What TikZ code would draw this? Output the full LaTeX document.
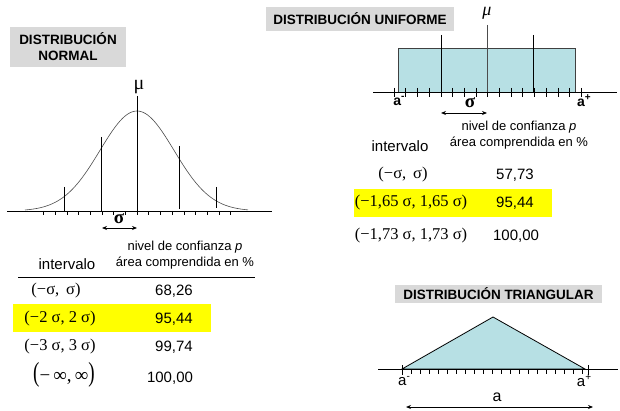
\documentclass[tikz,border=0pt]{standalone}
\usepackage{fontspec}
\setmainfont{Liberation Sans}
\newfontfamily\timesfont{Liberation Serif}
\usetikzlibrary{arrows.meta, positioning}
\definecolor{titlegray}{RGB}{217,217,217}
\definecolor{areablue}{RGB}{183,224,228}
\definecolor{hiyellow}{RGB}{255,255,0}
\newcommand{\supsign}[1]{\raisebox{0.42em}{\fontsize{10}{10}\selectfont #1}}

\begin{document}
\begin{tikzpicture}[x=1pt, y=-1pt,
        title/.style={fill=titlegray, font=\fontsize{13.5}{16}\selectfont\bfseries, align=center, inner sep=0pt},
        head/.style={font=\fontsize{13}{16}\selectfont, align=center, inner sep=0pt},
        colname/.style={font=\fontsize{15}{18}\selectfont, inner sep=0pt},
        interval/.style={font=\fontsize{16.5}{18}\selectfont\timesfont, inner sep=0pt},
        value/.style={font=\fontsize{15}{18}\selectfont, inner sep=0pt},
        axislabel/.style={font=\fontsize{15}{18}\selectfont, inner sep=0pt},
        axis/.style={line width=0.8pt},
        marker/.style={line width=0.9pt},
        tick/.style={line width=0.6pt},
        dimarrow/.style={{Stealth[length=5pt,width=4pt]}-{Stealth[length=5pt,width=4pt]}, line width=0.9pt}
    ]
    \useasboundingbox (0,0) rectangle (620,411);

    % normal
    \node[title, minimum width=116pt, minimum height=40pt] (normtitle) at (68,47) {DISTRIBUCIÓN\\NORMAL};
    \draw[axis] (7,211) -- (272,211);
    \foreach \k in {-8,...,8}
        \draw[tick] ({137+\k*11.7},211) -- ++(0,4);
    \draw[black!70, line width=0.6pt] plot[domain=-112:111, samples=90] ({137+\x},{211-100*exp(-(\x*\x)/2738)});
    \draw[marker] (137,96) -- (137,211);
    \draw[marker] (101,137) -- (101,211);
    \draw[marker] (179,146) -- (179,209);
    \draw[marker] (64,187) -- (64,212);
    \draw[marker] (216,187) -- (216,208);
    \node[axislabel, font=\fontsize{20}{20}\selectfont\timesfont] (normmu) at (139,87) {μ};
    \node[axislabel, font=\fontsize{19}{20}\selectfont\timesfont\bfseries] (normsigma) at (119,219) {σ};
    \coordinate (normsigL) at (102,228);
    \coordinate (normsigR) at (137,228);
    \draw[dimarrow] (normsigL) -- (normsigR);

    \node[head] (normhead) at (185,255) {nivel de confianza \textit{p}\\área comprendida en \%};
    \node[colname] (normint) at (67,264) {intervalo};
    \draw[line width=0.6pt] (18,277) -- (255,277);
    \fill[hiyellow] (13,304) rectangle (211,332);
    \node[interval] (normrowa) at (56,291) {(−σ,\, σ)};
    \node[value] (normvala) at (174,291) {68,26};
    \node[interval] (normrowb) at (60,319) {(−2 σ, 2 σ)};
    \node[value] (normvalb) at (174,319) {95,44};
    \node[interval] (normrowc) at (60,347) {(−3 σ, 3 σ)};
    \node[value] (normvalc) at (174,347) {99,74};
    \node[interval, font=\fontsize{19}{20}\selectfont\timesfont] (normrowd) at (64,375) {\scalebox{1}[1.45]{(}−\,∞,\,∞\scalebox{1}[1.45]{)}};
    \node[value] (normvald) at (170,378) {100,00};

    % uniforme
    \node[title, minimum width=188pt, minimum height=24pt] (unititle) at (360,19) {DISTRIBUCIÓN UNIFORME};
    \fill[areablue] (398,48) rectangle (575,92);
    \draw[black!75, line width=0.8pt] (398,92) -- (398,48) -- (575,48) -- (575,92);
    \draw[axis] (373,92) -- (617,92);
    \foreach \k in {0,...,16}
        \draw[tick] ({394+\k*11.7},88) -- ++(0,9);
    \draw[marker, line width=0.7pt] (441,35) -- (441,92);
    \draw[marker, line width=0.7pt, black!70] (487,25) -- (487,92);
    \draw[marker, line width=0.7pt] (533,35) -- (533,92);
    \node[axislabel, font=\fontsize{18}{18}\selectfont\timesfont\itshape] (unimu) at (487,13) {μ};
    \node[axislabel, font=\fontsize{14}{15}\selectfont\bfseries] (uniamin) at (399,101) {a\supsign{\textbf{-}}};
    \node[axislabel, font=\fontsize{14}{15}\selectfont\bfseries] (uniamax) at (584,101) {a\supsign{\textbf{+}}};
    \node[axislabel, font=\fontsize{19}{20}\selectfont\timesfont\bfseries] (unisigma) at (470,103) {σ};
    \coordinate (unisigL) at (441,113);
    \coordinate (unisigR) at (487,113);
    \draw[dimarrow] (unisigL) -- (unisigR);

    \node[head] (unihead) at (519,135) {nivel de confianza \textit{p}\\área comprendida en \%};
    \node[colname] (uniint) at (400,146) {intervalo};
    \fill[hiyellow] (354,189) rectangle (552,217);
    \node[interval] (unirowa) at (403,175) {(−σ,\, σ)};
    \node[value] (univala) at (515,175) {57,73};
    \node[interval] (unirowb) at (411,203) {(−1,65 σ, 1,65 σ)};
    \node[value] (univalb) at (515,203) {95,44};
    \node[interval] (unirowc) at (411,236) {(−1,73 σ, 1,73 σ)};
    \node[value] (univalc) at (516,236) {100,00};

    % triangular
    \node[title, minimum width=207pt, minimum height=18pt] (trititle) at (498.5,293.5) {DISTRIBUCIÓN TRIANGULAR};
    \coordinate (trileft) at (402,369);
    \coordinate (tritop) at (493,317);
    \coordinate (triright) at (585,369);
    \draw[fill=areablue, line width=0.8pt] (trileft) -- (tritop) -- (triright) -- cycle;
    \draw[axis] (378,369) -- (618,369);
    \foreach \k in {1,...,20}
        \draw[tick] ({402+\k*9},369) -- ++(0,5);
    \draw[tick] (402,365) -- (402,375);
    \draw[tick] (588,365) -- (588,375);
    \node[axislabel, font=\fontsize{15}{15}\selectfont] (triamin) at (404,381) {a\supsign{-}};
    \node[axislabel, font=\fontsize{15}{15}\selectfont] (triamax) at (584,381) {a\supsign{+}};
    \node[axislabel, font=\fontsize{16}{16}\selectfont] (triwidth) at (497,397) {a};
    \coordinate (triarrL) at (406,407);
    \coordinate (triarrR) at (593,407);
    \draw[dimarrow] (triarrL) -- (triarrR);
\end{tikzpicture}
\end{document}
